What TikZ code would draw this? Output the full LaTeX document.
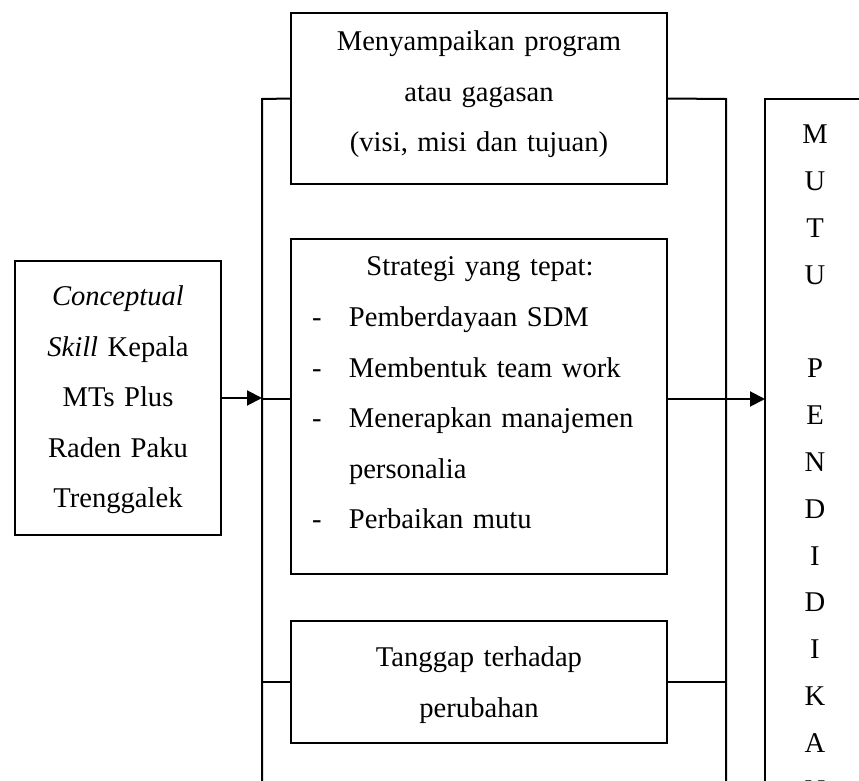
\documentclass[tikz,border=0pt]{standalone}
\usepackage{fontspec}
\setmainfont{Liberation Serif}
\usetikzlibrary{arrows.meta}
\begin{document}
\begin{tikzpicture}[x=0.5pt,y=-0.5pt,
  box/.style={draw, line width=0.75pt, inner sep=0pt, outer sep=0pt, anchor=north west},
  txt/.style={inner sep=0pt, outer sep=0pt, font=\fontsize{14.3}{25.25}\selectfont, text width=#1, align=center, anchor=base},
  txt/.default=180pt,
  conn/.style={line width=1pt},
  arr/.style={line width=1pt, -{Triangle[length=7.5pt,width=7.5pt]}},
  letters/.style={inner sep=0pt, outer sep=0pt, font=\fontsize{14.3}{23.4}\selectfont, text width=40pt, align=center, anchor=base}
]
\useasboundingbox (0,0) rectangle (859,781);
\clip (0,0) rectangle (859,781);

% boxes
\node[box, minimum width=103pt, minimum height=137pt] (left) at (15,261) {};
\node[box, minimum width=188pt, minimum height=85.5pt] (b1) at (291,13) {};
\node[box, minimum width=188pt, minimum height=167.5pt] (b2) at (291,239) {};
\node[box, minimum width=188pt, minimum height=61pt] (b3) at (291,621) {};
\node[box, minimum width=60pt, minimum height=360pt] (mutu) at (765,99) {};

% texts
\node[txt=100pt] (tl) at (118,306) {\textit{Conceptual}\\\textit{Skill} Kepala\\MTs Plus\\Raden Paku\\Trenggalek};
\node[txt] (t1) at (479,51) {Menyampaikan program\\atau gagasan\\(visi, misi dan tujuan)};
\node[txt] (t2a) at (480,276) {Strategi yang tepat:};
\node[txt=170pt, align=left, anchor=base west] (t2b) at (312,327) {\makebox[18.5pt][l]{-}Pemberdayaan SDM\\\makebox[18.5pt][l]{-}Membentuk team work\\\makebox[18.5pt][l]{-}Menerapkan manajemen\\\hspace*{18.5pt}personalia\\\makebox[18.5pt][l]{-}Perbaikan mutu};
\node[txt] (t3) at (479,667) {Tanggap terhadap\\perubahan};
\node[letters] (tm) at (815,144) {M\\U\\T\\U\\\mbox{}\\P\\E\\N\\D\\I\\D\\I\\K\\A\\N};

% connector coordinates
\coordinate (lt) at (262,99);
\coordinate (lb) at (262,800);
\coordinate (jl) at (262,399);
\coordinate (rt) at (726,99);
\coordinate (rb) at (726,800);
\coordinate (jr) at (726,399);

% left bus
\draw[conn] (lb) -- (lt) -- (b1.west);
\draw[conn] (jl) -- (jl -| b2.west);
\draw[conn] (b3.west -| lt) -- (b3.west);
\draw[arr] (left.east) -- (left.east -| jl);

% right bus
\draw[conn] (rb) -- (rt) -- (b1.east);
\draw[conn] (jr -| b2.east) -- (jr);
\draw[conn] (b3.east) -- (b3.east -| rt);
\draw[arr] (jr) -- (jr -| mutu.west);
\end{tikzpicture}
\end{document}
